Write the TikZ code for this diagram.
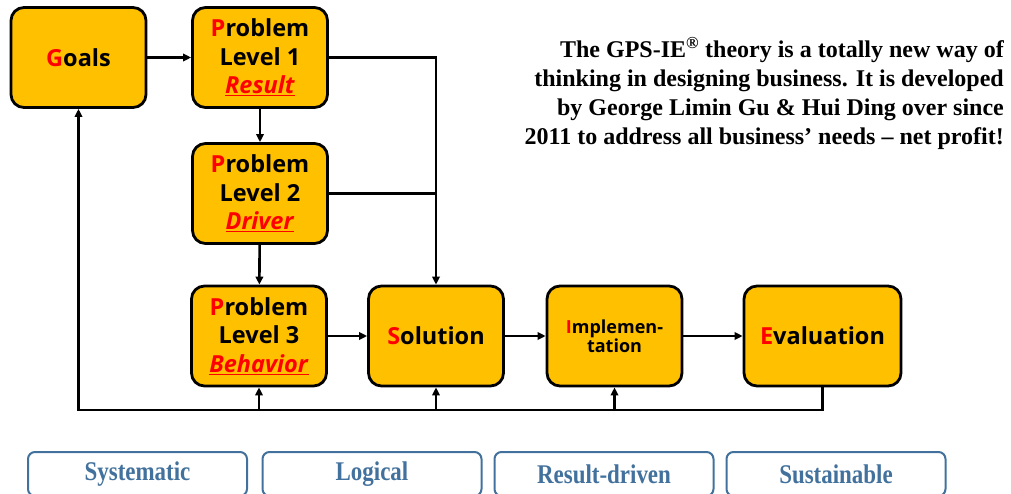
\documentclass[tikz,border=0pt]{standalone}
\usepackage{fontspec}
\setsansfont{Open Sans}
\setmainfont{Liberation Serif}
\newfontfamily\tagfont[FakeStretch=0.85]{Liberation Serif}
\usetikzlibrary{arrows.meta}

\definecolor{gpsyellow}{HTML}{FFC000}
\definecolor{tagblue}{HTML}{41719C}

% red initial letter and red underlined level word
\newcommand{\redinit}[1]{\textcolor{red}{#1}}
\newcommand{\levelword}[1]{\textcolor{red}{\underline{\textit{#1}}}}

\tikzset{
  stagebox/.style={draw=black, line width=2.8pt, fill=gpsyellow, rounded corners=13pt,
    minimum width=135pt, minimum height=100pt, inner sep=0pt, align=center,
    font=\sffamily\bfseries\fontsize{23.5}{28.5}\selectfont},
  flow/.style={line width=2.6pt, -{Triangle[length=8pt,width=7.5pt]}},
  tagbox/.style={draw=tagblue, line width=2pt, rounded corners=7pt,
    minimum width=219pt, minimum height=44pt, inner sep=0pt,
    text=tagblue, font=\tagfont\bfseries\fontsize{27}{30}\selectfont},
}

\begin{document}
\begin{tikzpicture}[x=1pt,y=-1pt]
\useasboundingbox (0,0) rectangle (1011,493);

% Stages
\node[stagebox] (goals) at (78.5,57.5) {\redinit{G}oals};
\node[stagebox] (lvlA) at (260,57.5) {\redinit{P}roblem\\Level 1\\\levelword{Result}};
\node[stagebox] (lvlB) at (260,193.5) {\redinit{P}roblem\\Level 2\\\levelword{Driver}};
\node[stagebox] (lvlC) at (259,336) {\redinit{P}roblem\\Level 3\\\levelword{Behavior}};
\node[stagebox] (sol) at (436,336) {\redinit{S}olution};
\node[stagebox, font=\sffamily\bfseries\fontsize{18}{19.5}\selectfont] (impl) at (614.5,336) {\redinit{I}mplemen-\\tation};
\node[stagebox, minimum width=157pt] (eval) at (822.5,336) {\redinit{E}valuation};

% Forward flow
\draw[flow] (goals) -- (lvlA);
\draw[flow] (lvlA) -- (lvlB);
\draw[flow] (lvlB) -- (lvlC);
\draw[flow] (lvlA.east) -| (sol.north);
\draw[line width=2.6pt] (lvlB.east) -- (lvlB.east -| sol.north);
\draw[flow] (lvlC) -- (sol);
\draw[flow] (sol) -- (impl);
\draw[flow] (impl) -- (eval);

% Feedback loop
\coordinate (loop) at (0,410);
\draw[flow] (eval.south) -- (eval.south |- loop) -- (goals.south |- loop) -- (goals.south);
\foreach \n in {lvlC, sol, impl}
  \draw[flow] (\n.south |- loop) -- (\n.south);

% Theory note
\node[anchor=north east, align=right, inner sep=0pt,
  font=\bfseries\fontsize{24}{29}\selectfont] (note) at (1004,37)
  {The GPS-IE\textsuperscript{®} theory is a totally new way of\\
   thinking in designing business. It is developed\\
   by George Limin Gu \& Hui Ding over since\\
   2011 to address all business’ needs – net profit!};

% Principles
\node[tagbox] (sys) at (137.5,474) {Systematic};
\node[tagbox] (logic) at (372,474) {Logical};
\node[tagbox] (res) at (604,474) {Result-driven};
\node[tagbox] (sus) at (836,474) {Sustainable};
\end{tikzpicture}
\end{document}
